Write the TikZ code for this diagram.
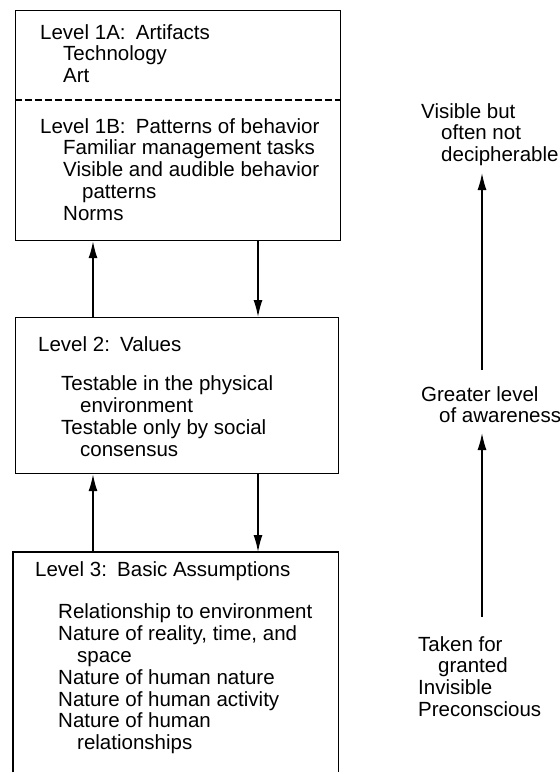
\documentclass[tikz,border=0pt]{standalone}
\usepackage{fontspec}
\setmainfont{Liberation Sans}
\usetikzlibrary{arrows.meta}

\tikzset{
  levelbox/.style={draw, line width=1.2bp, inner sep=0pt, anchor=north west},
  lvltext/.style={anchor=north west, inner sep=0pt, align=left,
    font=\fontsize{20.5bp}{21.8bp}\selectfont},
  sidetext/.style={lvltext},
  arr/.style={line width=1.5bp, -{Latex[length=17bp,width=9bp]}}
}
\newcommand{\ind}{\hspace*{23bp}}
\newcommand{\indd}{\hspace*{42bp}}

\begin{document}
\begin{tikzpicture}[x=1bp,y=-1bp]
                \useasboundingbox (0,0) rectangle (560,774);
                % the three levels
                \node[levelbox, minimum width=325bp, minimum height=230bp] (lvlone) at (15,10) {};
                \node[levelbox, minimum width=323bp, minimum height=156bp] (lvltwo) at (15,317) {};
                \node[anchor=north west, inner sep=0pt, minimum width=325bp, minimum height=220bp] (lvlthree) at (13,552) {};
                \draw[line width=1.2bp] (lvlthree.south west) -- (lvlthree.north west) -- (lvlthree.north east) -- (lvlthree.south east);
                \draw[line width=1.1bp, dash pattern=on 7bp off 3bp] (lvlone.west |- 0,100) -- (lvlone.east |- 0,100);
                % texts in the boxes
                \node[lvltext] (artifacts) at (40,24) {Level 1A:\enspace Artifacts\\
                  \ind Technology\\
                  \ind Art};
                \node[lvltext] (behavior) at (40,118) {Level 1B:\enspace Patterns of behavior\\
                  \ind Familiar management tasks\\
                  \ind Visible and audible behavior\\
                  \indd patterns\\
                  \ind Norms};
                \node[lvltext] (values) at (38,336) {Level 2:\enspace Values\\[18bp]
                  \ind Testable in the physical\\
                  \indd environment\\
                  \ind Testable only by social\\
                  \indd consensus};
                \node[lvltext] (assumptions) at (35,561) {Level 3:\enspace Basic Assumptions\\[21bp]
                  \ind Relationship to environment\\
                  \ind Nature of reality, time, and\\
                  \indd space\\
                  \ind Nature of human nature\\
                  \ind Nature of human activity\\
                  \ind Nature of human\\
                  \indd relationships};
                % arrows between the levels
                \coordinate (upx) at (93,0);
                \coordinate (downx) at (258,0);
                \draw[arr] (lvltwo.north -| upx) -- (lvlone.south -| upx);
                \draw[arr] (lvlone.south -| downx) -- (lvltwo.north -| downx);
                \draw[arr] (lvlthree.north -| upx) -- (lvltwo.south -| upx);
                \draw[arr] (lvltwo.south -| downx) -- (lvlthree.north -| downx);
                % awareness scale on the right
                \node[sidetext] (visible) at (421,103) {Visible but\\
                  \hspace*{20bp}often not\\
                  \hspace*{20bp}decipherable};
                \node[sidetext] (greater) at (421,386) {Greater level\\
                  \hspace*{18bp}of awareness};
                \node[sidetext] (taken) at (418,636) {Taken for\\
                  \hspace*{20bp}granted\\
                  Invisible\\
                  Preconscious};
                \coordinate (scale) at (482,0);
                \draw[arr] (scale |- 0,370) -- (scale |- 0,173);
                \draw[arr] (scale |- 0,617) -- (scale |- 0,433);
            \end{tikzpicture}
\end{document}
